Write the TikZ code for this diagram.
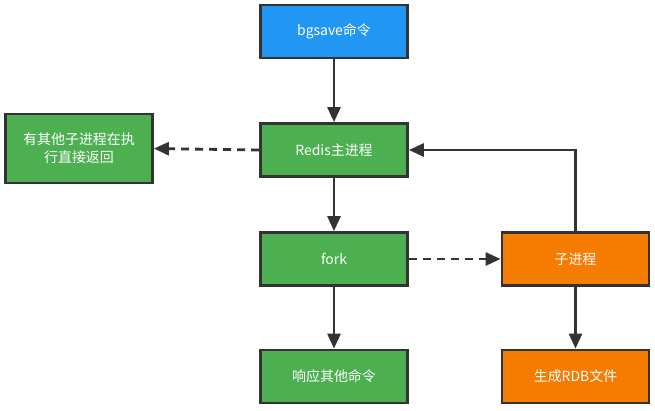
\documentclass[tikz,border=0pt]{standalone}
\usepackage{fontspec}
\setmainfont{Noto Sans CJK SC}
\usetikzlibrary{arrows.meta}
\definecolor{cblue}{HTML}{2196F3}
\definecolor{cgreen}{HTML}{4CAF50}
\definecolor{corange}{HTML}{F57C00}
\definecolor{cline}{HTML}{333333}
\begin{document}
\begin{tikzpicture}[x=1bp,y=-1bp,
  box/.style={draw=cline,line width=2.8bp,text=white,minimum width=147bp,minimum height=53bp,inner sep=2bp,align=center,font=\fontsize{14}{18}\selectfont},
  conn/.style={draw=cline,line width=2.8bp,-{Triangle[length=15bp,width=13bp]}},
  dconn/.style={conn,dash pattern=on 8bp off 6bp}]
\useasboundingbox (0,0) rectangle (655,410);
\node[box,fill=cblue] (bg) at (334,31.5) {bgsave命令};
\node[box,fill=cgreen] (redis) at (334,150) {Redis主进程};
\node[box,fill=cgreen,minimum height=69bp] (other) at (79,148.5) {有其他子进程在执\\行直接返回};
\node[box,fill=cgreen] (fork) at (334,259) {fork};
\node[box,fill=cgreen] (resp) at (334,376.5) {响应其他命令};
\node[box,fill=corange] (child) at (575.5,259) {子进程};
\node[box,fill=corange] (rdb) at (575.5,376.5) {生成RDB文件};
\draw[conn] (bg) -- (redis);
\draw[conn] (redis) -- (fork);
\draw[conn] (fork) -- (resp);
\draw[conn] (child) -- (rdb);
\draw[dconn] (redis.west) -- (other.east);
\draw[dconn] (fork.east) -- (child.west);
\draw[conn] (child.north) |- (redis.east);
\end{tikzpicture}
\end{document}
